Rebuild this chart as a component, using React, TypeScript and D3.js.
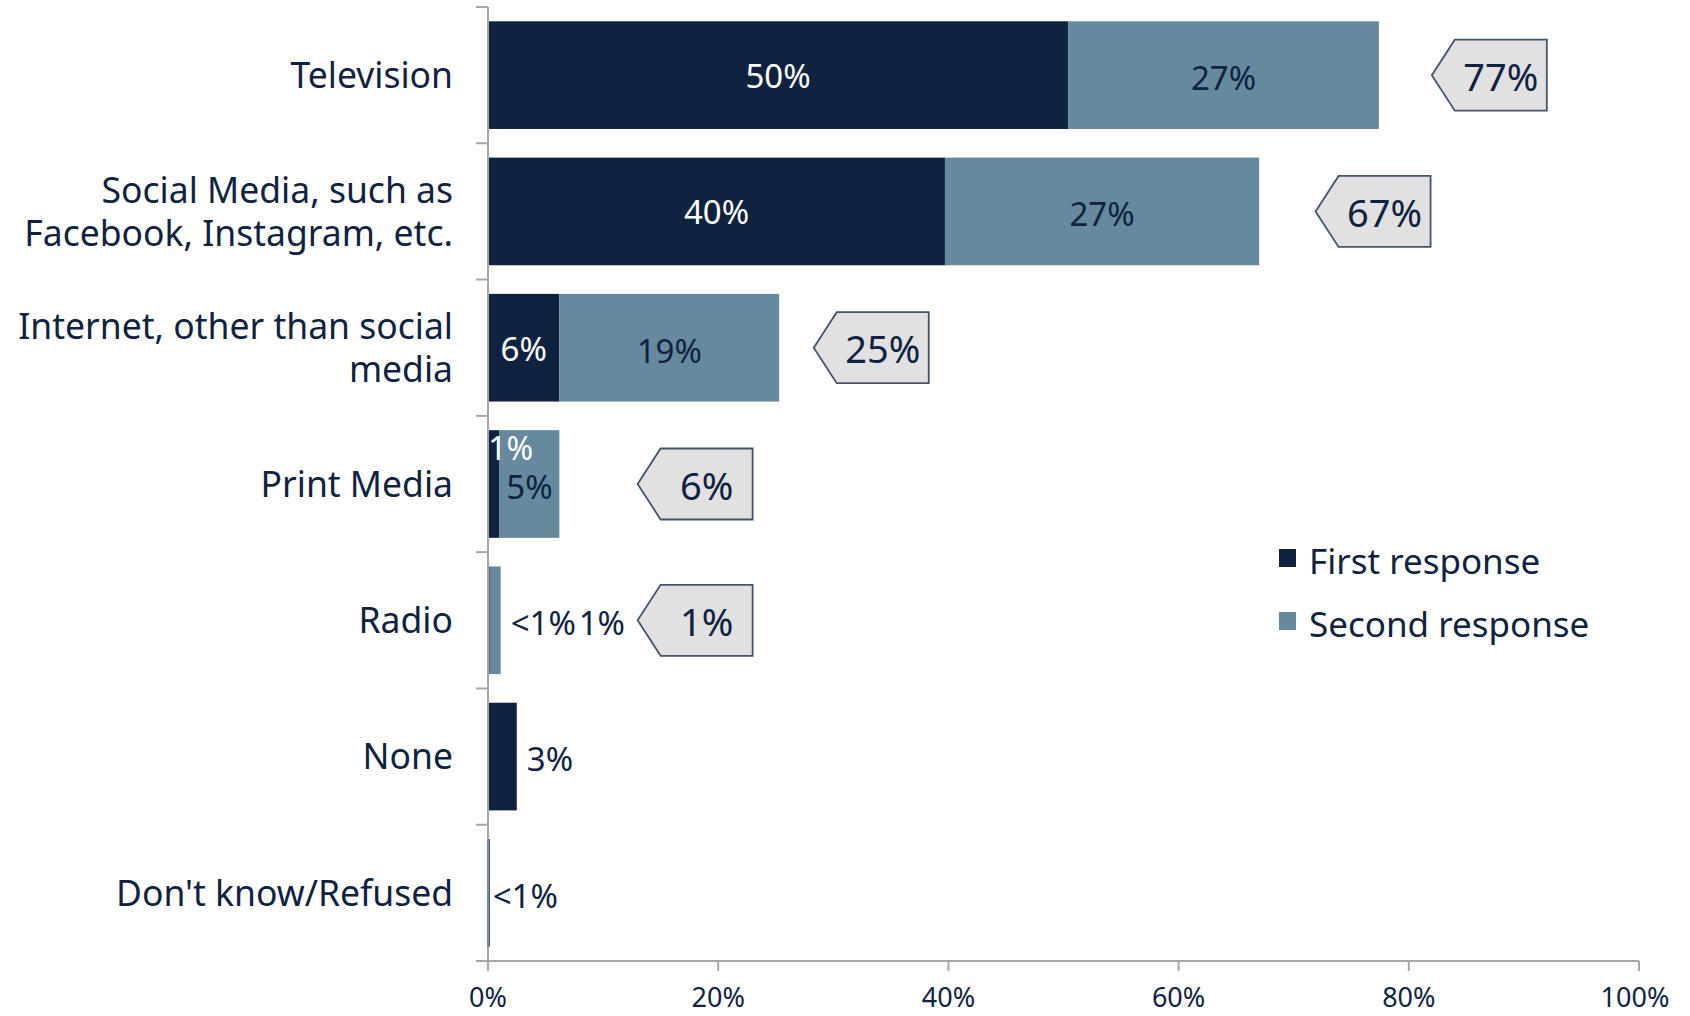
import React from "react";
import * as d3 from "d3";

const categories = [
  ["Television"],
  ["Social Media, such as", "Facebook, Instagram, etc."],
  ["Internet, other than social", "media"],
  ["Print Media"],
  ["Radio"],
  ["None"],
  ["Don't know/Refused"],
];
const firstResponse = [50.4, 39.7, 6.2, 1.0, 0.15, 2.5, 0.15];
const secondResponse = [27.0, 27.3, 19.1, 5.2, 0.95, 0, 0];
const firstLabels = ["50%", "40%", "6%", "1%", "<1%", "3%", "<1%"];
const secondLabels = ["27%", "27%", "19%", "5%", "1%", "", ""];
const totalLabels = ["77%", "67%", "25%", "6%", "1%", "", ""];
const calloutAt = [82.0, 71.9, 28.3, 13.0, 13.0, null, null];
const xTicks = [0, 20, 40, 60, 80, 100];
const seriesNames = ["First response", "Second response"];

const DARK = "#0f2341";
const LIGHT = "#66899e";
const AXIS = "#a6a6a6";
const FONT = "'Noto Sans', sans-serif";

export default function App() {
  const W = 1690, H = 1016;
  const x = d3.scaleLinear().domain([0, 100]).range([488, 1639]);
  const idx = categories.map((_, i) => i);
  const y = d3.scaleBand<number>().domain(idx).range([7, 961]).paddingInner(0.21).paddingOuter(0.105);
  const step = y.step();
  const bw = y.bandwidth();
  const cy = (i: number) => (y(i) as number) + bw / 2;

  const firstMode = ["in", "in", "in", "inShift", "out", "out", "out"];
  const secondMode = ["in", "in", "in", "in", "out2", "", ""];

  const calloutPath = (tipX: number, c: number) => {
    const h = 71, tip = 23, wBody = 92;
    return `M${tipX},${c} L${tipX + tip},${c - h / 2} L${tipX + tip + wBody},${c - h / 2} L${tipX + tip + wBody},${c + h / 2} L${tipX + tip},${c + h / 2} Z`;
  };

  return (
    <svg width={W} height={H} style={{ position: "absolute", left: 0, top: 0, background: "#fff" }} fontFamily={FONT}>
      {idx.map((i) => (
        <g key={"b" + i}>
          {firstResponse[i] > 0 && (
            <rect x={x(0)} y={y(i)} width={x(firstResponse[i]) - x(0)} height={bw} fill={DARK} />
          )}
          {secondResponse[i] > 0 && (
            <rect x={x(firstResponse[i])} y={y(i)} width={x(firstResponse[i] + secondResponse[i]) - x(firstResponse[i])} height={bw} fill={LIGHT} />
          )}
        </g>
      ))}

      <line x1={x(0)} x2={x(0)} y1={7} y2={961} stroke={AXIS} strokeWidth={2} />
      {idx.concat([7]).map((i) => {
        const yy = 7 + step * i;
        return <line key={"ct" + i} x1={x(0) - 12} x2={x(0)} y1={yy} y2={yy} stroke={AXIS} strokeWidth={2} />;
      })}
      <line x1={x(0) - 12} x2={x(100)} y1={961} y2={961} stroke={AXIS} strokeWidth={2} />
      {xTicks.map((t) => (
        <g key={"xt" + t}>
          <line x1={x(t)} x2={x(t)} y1={961} y2={971} stroke={AXIS} strokeWidth={2} />
          <text x={x(t) - (t === 100 ? 4 : 0)} y={1007} textAnchor="middle" fontSize={27} fill={DARK}>
            {t}%
          </text>
        </g>
      ))}
      {idx.map((i) =>
        firstResponse[i] > 0 && firstResponse[i] < 0.5 && secondResponse[i] === 0 ? (
          <rect key={"thin" + i} x={x(0) - 1} y={y(i)} width={2} height={bw} fill="#7f8a99" />
        ) : null
      )}

      {idx.map((i) => {
        const lines = categories[i];
        const lh = 43;
        const start = cy(i) - ((lines.length - 1) * lh) / 2;
        return (
          <text key={"cl" + i} textAnchor="end" fontSize={35.5} fill={DARK}>
            {lines.map((l, k) => (
              <tspan key={k} x={453} y={start + k * lh} dy="0.36em">
                {l}
              </tspan>
            ))}
          </text>
        );
      })}

      {idx.map((i) => {
        const f = firstResponse[i], s = secondResponse[i];
        const c = cy(i);
        const out: React.ReactNode[] = [];
        const fm = firstMode[i];
        if (fm === "in") {
          out.push(
            <text key="f" x={(x(0) + x(f)) / 2} y={c + 1} dy="0.36em" textAnchor="middle" fontSize={33} fill="#fff">
              {firstLabels[i]}
            </text>
          );
        } else if (fm === "inShift") {
          out.push(
            <text key="f" x={(x(0) + x(f)) / 2 + 17} y={c - 36} dy="0.36em" textAnchor="middle" fontSize={32} fill="#fff">
              {firstLabels[i]}
            </text>
          );
        } else if (fm === "out") {
          out.push(
            <text key="f" x={x(f + s) + (i === 6 ? 3 : 10)} y={c + 3} dy="0.36em" textAnchor="start" fontSize={33} fill={DARK}>
              {firstLabels[i]}
            </text>
          );
        }
        const sm = secondMode[i];
        if (sm === "in") {
          out.push(
            <text key="s" x={(x(f) + x(f + s)) / 2} y={c + 3} dy="0.36em" textAnchor="middle" fontSize={33} fill={DARK}>
              {secondLabels[i]}
            </text>
          );
        } else if (sm === "out2") {
          out.push(
            <text key="s" x={x(f + s) + 78} y={c + 3} dy="0.36em" textAnchor="start" fontSize={33} fill={DARK}>
              {secondLabels[i]}
            </text>
          );
        }
        return <g key={"dl" + i}>{out}</g>;
      })}

      {idx.map((i) => {
        const at = calloutAt[i];
        if (at == null) return null;
        const tipX = x(at);
        const c = cy(i);
        return (
          <g key={"co" + i}>
            <path d={calloutPath(tipX, c)} fill="#e1e1e1" stroke="#44546a" strokeWidth={1.8} />
            <text x={tipX + 23 + 46} y={c + 2} dy="0.36em" textAnchor="middle" fontSize={38} fill={DARK}>
              {totalLabels[i]}
            </text>
          </g>
        );
      })}

      {seriesNames.map((n, k) => (
        <g key={"lg" + k}>
          <rect x={1279} y={549 + k * 63} width={17} height={18} fill={k === 0 ? DARK : LIGHT} />
          <text x={1309} y={561 + k * 63} dy="0.36em" fontSize={35} fill={DARK}>
            {n}
          </text>
        </g>
      ))}
    </svg>
  );
}
